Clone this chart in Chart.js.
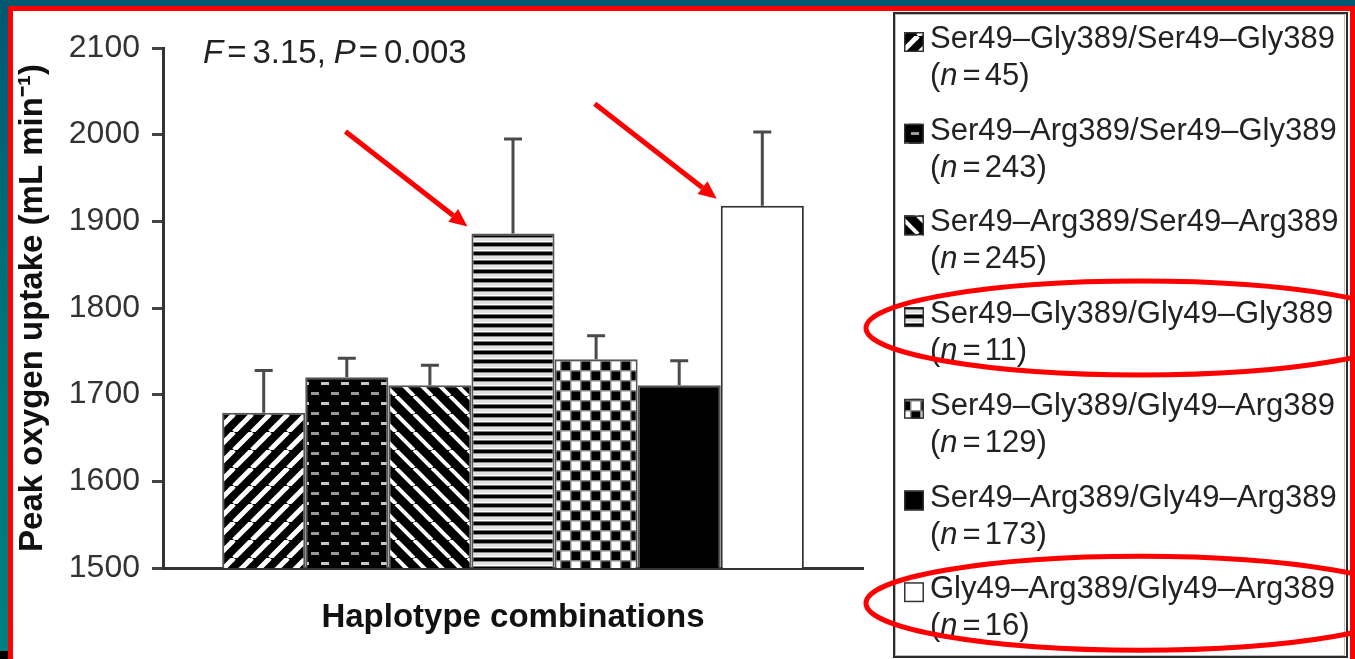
<!DOCTYPE html>
<html>
<head>
<meta charset="utf-8">
<title>Peak oxygen uptake by haplotype combination</title>
<script src="https://cdn.jsdelivr.net/npm/chart.js@4.4.1/dist/chart.umd.min.js"></script>
<style>
  html, body { margin: 0; padding: 0; }
  body {
    width: 1355px; height: 659px; overflow: hidden; position: relative;
    background: linear-gradient(to bottom, #005870 0%, #00767a 55%, #008080 100%);
  }
  .frame {
    position: absolute; left: 8px; top: 6px; width: 1337px; height: 648px;
    border: 5px solid #ff0000; border-bottom: none; background: #fff;
  }
  .corner { position: absolute; left: 0; top: 651px; width: 8px; height: 8px; background: #000; }
  #chart { position: absolute; left: 0; top: 0; }
</style>
</head>
<body>
<div class="frame"></div>
<div class="corner"></div>
<canvas id="chart" width="1355" height="659"></canvas>
<script>
// values
const haplotypes = [
  "Ser49–Gly389/Ser49–Gly389",
  "Ser49–Arg389/Ser49–Gly389",
  "Ser49–Arg389/Ser49–Arg389",
  "Ser49–Gly389/Gly49–Gly389",
  "Ser49–Gly389/Gly49–Arg389",
  "Ser49–Arg389/Gly49–Arg389",
  "Gly49–Arg389/Gly49–Arg389"
];
const groupSizes = [45, 243, 245, 11, 129, 173, 16];
const peakUptake = [1679, 1720, 1711, 1886, 1741, 1711, 1918];
const errorUp = [49, 22, 23, 109, 27, 28, 85];
const yTicks = [1500, 1600, 1700, 1800, 1900, 2000, 2100];
const marked = [3, 6];

const FONT = '"Liberation Sans", Arial, Helvetica, sans-serif';
const canvas = document.getElementById("chart");
const mainCtx = canvas.getContext("2d");

function tile(w, h, draw) {
  const c = document.createElement("canvas");
  c.width = w; c.height = h;
  draw(c.getContext("2d"), w, h);
  return mainCtx.createPattern(c, "repeat");
}

function diagonal(up, lw, s) {
  return tile(s, s, (g) => {
    g.fillStyle = "#000"; g.fillRect(0, 0, s, s);
    g.strokeStyle = "#fff"; g.lineWidth = lw;
    for (const o of [-s, 0, s]) {
      g.beginPath();
      if (up) { g.moveTo(o, s); g.lineTo(o + s, 0); }
      else { g.moveTo(o, 0); g.lineTo(o + s, s); }
      g.stroke();
    }
  });
}

const dashes = tile(20, 20, (g) => {
  g.fillStyle = "#000"; g.fillRect(0, 0, 20, 20);
  g.fillStyle = "#c8c8c8"; g.fillRect(1, 2, 8, 3);
  g.fillStyle = "#9a9a9a"; g.fillRect(11, 12, 8, 3);
});

const hstripes = tile(4, 9, (g) => {
  g.fillStyle = "#000"; g.fillRect(0, 0, 4, 3);
  g.fillStyle = "#888"; g.fillRect(0, 3, 4, 1);
  g.fillStyle = "#e2e2e2"; g.fillRect(0, 4, 4, 3);
  g.fillStyle = "#fff"; g.fillRect(0, 7, 4, 1);
  g.fillStyle = "#777"; g.fillRect(0, 8, 4, 1);
});

const checks = tile(20, 20, (g) => {
  g.fillStyle = "#fff"; g.fillRect(0, 0, 20, 20);
  g.fillStyle = "#000";
  g.fillRect(1, 1, 9, 9); g.fillRect(11, 11, 9, 9);
  g.fillStyle = "#888";
  g.fillRect(0, 0, 20, 1.5); g.fillRect(0, 10, 20, 1.5);
  g.fillRect(0, 0, 1.5, 20); g.fillRect(10, 0, 1.5, 20);
});

const fills = [diagonal(true, 5, 18), dashes, diagonal(false, 4, 18), hstripes, checks, "#000", "#fff"];

const datasets = haplotypes.map((name, i) => ({
  label: name,
  n: groupSizes[i],
  err: errorUp[i],
  data: [peakUptake[i]],
  backgroundColor: fills[i],
  borderColor: i === 6 ? "#333" : "#555",
  borderWidth: 2,
  barPercentage: 1,
  categoryPercentage: 0.831
}));

function drawParts(ctx, parts, x, y, size) {
  parts.forEach(([text, italic, gap]) => {
    ctx.font = (italic ? "italic " : "") + size + "px " + FONT;
    ctx.fillText(text, x, y);
    x += ctx.measureText(text).width + (gap || 0);
  });
}

function drawArrow(ctx, x0, y0, x1, y1) {
  const a = Math.atan2(y1 - y0, x1 - x0);
  const head = 18, half = 8;
  const bx = x1 - head * Math.cos(a), by = y1 - head * Math.sin(a);
  ctx.beginPath(); ctx.moveTo(x0, y0); ctx.lineTo(bx, by); ctx.stroke();
  ctx.beginPath();
  ctx.moveTo(x1, y1);
  ctx.lineTo(bx + half * Math.sin(a), by - half * Math.cos(a));
  ctx.lineTo(bx - half * Math.sin(a), by + half * Math.cos(a));
  ctx.closePath(); ctx.fill();
}

const errorBars = {
  id: "errorBars",
  afterDatasetsDraw(chart) {
    const ctx = chart.ctx, y = chart.scales.y;
    ctx.save();
    ctx.strokeStyle = "#4a4a4a"; ctx.lineWidth = 3;
    chart.data.datasets.forEach((ds, i) => {
      const bar = chart.getDatasetMeta(i).data[0];
      const top = y.getPixelForValue(ds.data[0] + ds.err);
      ctx.beginPath();
      ctx.moveTo(bar.x, bar.y); ctx.lineTo(bar.x, top);
      ctx.moveTo(bar.x - 9, top); ctx.lineTo(bar.x + 9, top);
      ctx.stroke();
    });
    ctx.restore();
  }
};

const extras = {
  id: "extras",
  afterDraw(chart) {
    const ctx = chart.ctx;
    ctx.save();
    ctx.textBaseline = "alphabetic"; ctx.textAlign = "left";

    // statistics label
    ctx.fillStyle = "#222";
    drawParts(ctx, [["F", 1, 4], ["=", 0, 6], ["3.15,", 0, 8], ["P", 1, 3], ["=", 0, 6], ["0.003", 0]], 203, 63, 33);

    // legend box
    ctx.strokeStyle = "#bdbdbd"; ctx.lineWidth = 1;
    ctx.strokeRect(895.5, 14.5, 449, 641);
    ctx.strokeStyle = "#2b2b2b"; ctx.lineWidth = 2;
    ctx.strokeRect(894, 13, 453, 644);

    chart.data.datasets.forEach((ds, i) => {
      const base = 48 + i * 91.7;
      ctx.fillStyle = ds.backgroundColor;
      ctx.fillRect(904, base - 16, 20, 20);
      ctx.strokeStyle = "#333"; ctx.lineWidth = 1.5;
      ctx.strokeRect(904.75, base - 15.25, 18.5, 18.5);
      ctx.fillStyle = "#222";
      ctx.font = "31px " + FONT;
      ctx.fillText(ds.label, 930, base);
      drawParts(ctx, [["(", 0], ["n", 1, 5], ["=", 0, 4], [ds.n + ")", 0]], 930, base + 37, 31);
    });

    // red highlights
    ctx.strokeStyle = "#ff0000"; ctx.fillStyle = "#ff0000"; ctx.lineWidth = 5;
    marked.forEach((i) => {
      const bar = chart.getDatasetMeta(i).data[0];
      const tx = bar.x - bar.width / 2 - 4, ty = bar.y - 7;
      drawArrow(ctx, tx - 122, ty - 95, tx, ty);
      const base = 48 + i * 91.7;
      ctx.beginPath();
      ctx.ellipse(1140, base + 5, 274, 47, 0, 0, Math.PI * 2);
      ctx.stroke();
    });
    ctx.restore();
  }
};

new Chart(canvas, {
  type: "bar",
  data: { labels: [""], datasets },
  plugins: [errorBars, extras],
  options: {
    responsive: false,
    animation: false,
    devicePixelRatio: 1,
    layout: { padding: { left: 9, top: 48, right: 492, bottom: 17 } },
    plugins: { legend: { display: false }, tooltip: { enabled: false } },
    scales: {
      x: {
        ticks: { display: false },
        grid: { display: false },
        border: { display: true, color: "#333", width: 3 },
        title: {
          display: true, text: "Haplotype combinations", color: "#111",
          font: { family: FONT, size: 33, weight: "bold" }
        },
        afterFit: (s) => { s.height = 74; }
      },
      y: {
        min: 1500, max: 2100,
        afterBuildTicks: (s) => { s.ticks = yTicks.map((v) => ({ value: v })); },
        ticks: { color: "#333", padding: 12, font: { family: FONT, size: 32 }, callback: (v) => String(v) },
        grid: { display: true, drawOnChartArea: false, drawTicks: true, tickLength: 11, color: "#444", lineWidth: 3 },
        border: { display: true, color: "#333", width: 3 },
        title: {
          display: true, text: "Peak oxygen uptake (mL min\u207B\u00B9)", color: "#111",
          font: { family: FONT, size: 33, weight: "bold" }
        },
        afterFit: (s) => { s.width = 154; }
      }
    }
  }
});
</script>
</body>
</html>
